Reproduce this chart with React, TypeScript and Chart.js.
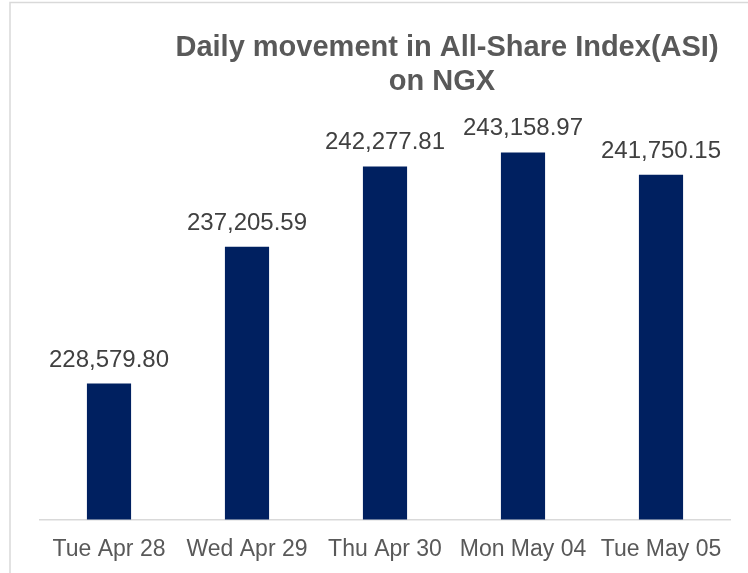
import React, { useEffect, useRef } from "react";
import { Chart, registerables } from "chart.js";

Chart.register(...registerables);

const categories = ["Tue Apr 28", "Wed Apr 29", "Thu Apr 30", "Mon May 04", "Tue May 05"];
const asiValues = [228579.8, 237205.59, 242277.81, 243158.97, 241750.15];
const titleLines = ["Daily movement in All-Share Index(ASI)", "on NGX"];
const yMin = 220000;
const yMax = 250000;

const FONT = "'Liberation Sans', Arial, sans-serif";

const fmt = (v: number) =>
  v.toLocaleString("en-US", { minimumFractionDigits: 2, maximumFractionDigits: 2 });

const framePlugin = {
  id: "frame",
  beforeDraw(chart: any) {
    const ctx = chart.ctx;
    ctx.save();
    ctx.strokeStyle = "#d9d9d9";
    ctx.lineWidth = 1.5;
    ctx.beginPath();
    ctx.moveTo(10, chart.height);
    ctx.lineTo(10, 2.5);
    ctx.lineTo(chart.width, 2.5);
    ctx.stroke();
    ctx.restore();
  },
};

const titlePlugin = {
  id: "customTitle",
  afterDraw(chart: any) {
    const ctx = chart.ctx;
    ctx.save();
    ctx.fillStyle = "#595959";
    ctx.font = `bold 29px ${FONT}`;
    ctx.textAlign = "center";
    ctx.textBaseline = "alphabetic";
    ctx.fillText(titleLines[0], 447, 56);
    ctx.fillText(titleLines[1], 442, 90);
    ctx.restore();
  },
};

const labelPlugin = {
  id: "barLabels",
  afterDatasetsDraw(chart: any) {
    const ctx = chart.ctx;
    const meta = chart.getDatasetMeta(0);
    ctx.save();
    ctx.fillStyle = "#404040";
    ctx.font = `24px ${FONT}`;
    ctx.textAlign = "center";
    ctx.textBaseline = "alphabetic";
    meta.data.forEach((bar: any, i: number) => {
      ctx.fillText(fmt(asiValues[i]), bar.x, bar.y - 17);
    });
    ctx.restore();
  },
};

export default function App() {
  const ref = useRef<HTMLCanvasElement>(null);

  useEffect(() => {
    if (!ref.current) return;
    const chart = new Chart(ref.current, {
      type: "bar",
      data: {
        labels: categories,
        datasets: [
          {
            data: asiValues,
            backgroundColor: "#002060",
            borderWidth: 0,
            categoryPercentage: 1,
            barPercentage: 0.32,
          },
        ],
      },
      options: {
        responsive: false,
        animation: false,
        devicePixelRatio: 1,
        layout: { padding: { left: 40, right: 18, top: 44, bottom: 0 } },
        plugins: {
          legend: { display: false },
          title: { display: false },
          tooltip: { enabled: false },
        },
        scales: {
          x: {
            grid: { display: false, drawTicks: false },
            border: { display: true, color: "#d9d9d9", width: 1.5 },
            ticks: {
              color: "#595959",
              font: { family: FONT, size: 23 },
              padding: 16,
              maxRotation: 0,
              autoSkip: false,
            },
            afterFit(scale: any) {
              scale.height = 53.5;
            },
          },
          y: {
            display: false,
            min: yMin,
            max: yMax,
          },
        },
      },
      plugins: [framePlugin, titlePlugin, labelPlugin],
    });
    return () => chart.destroy();
  }, []);

  return (
    <div style={{ position: "fixed", left: 0, top: 0, width: 748, height: 573, background: "#fff" }}>
      <canvas ref={ref} width={748} height={573} style={{ display: "block" }} />
    </div>
  );
}
